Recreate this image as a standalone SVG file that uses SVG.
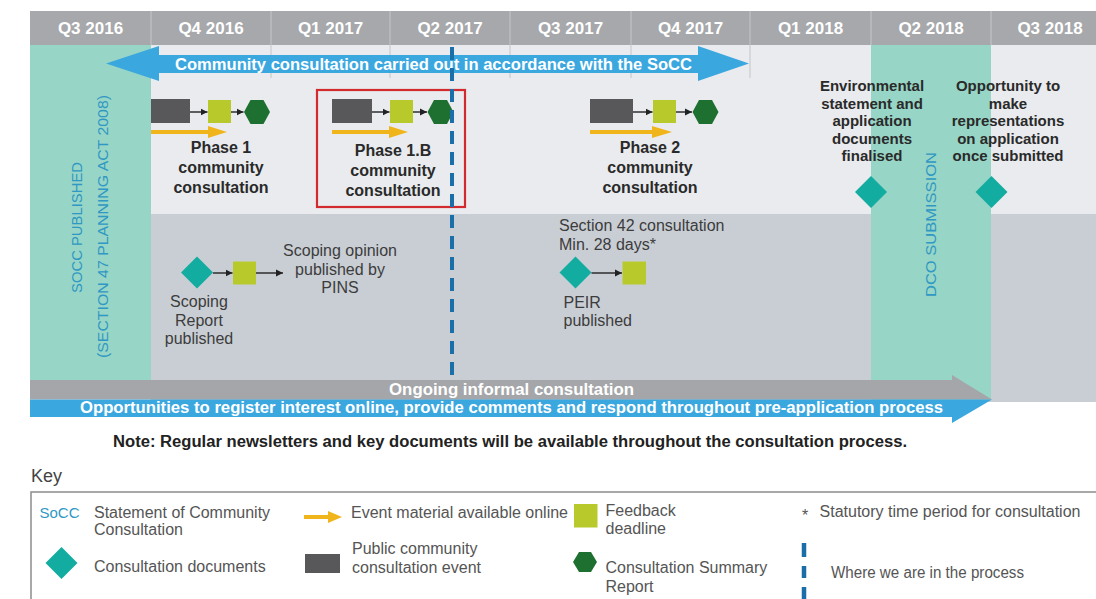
<svg xmlns="http://www.w3.org/2000/svg" width="1096" height="599" viewBox="0 0 1096 599">
<defs>
<style>
.hdr{font-family:"Liberation Sans",Arial,sans-serif;font-weight:bold;font-size:17px;fill:#fff;text-anchor:middle}
.ph{font-family:"Liberation Sans",Arial,sans-serif;font-weight:bold;font-size:16px;fill:#2a2a2a;text-anchor:middle}
.ms{font-family:"Liberation Sans",Arial,sans-serif;font-weight:bold;font-size:15px;fill:#2a2a2a;text-anchor:middle}
.lab{font-family:"Liberation Sans",Arial,sans-serif;font-size:16px;fill:#3c3c3c}
.mid{text-anchor:middle}
.vert{font-family:"Liberation Sans",Arial,sans-serif;font-size:15px;fill:#2f98c3;text-anchor:middle}
.band{font-family:"Liberation Sans",Arial,sans-serif;font-weight:bold;font-size:16px;fill:#fff;text-anchor:middle}
.note{font-family:"Liberation Sans",Arial,sans-serif;font-weight:bold;font-size:16px;fill:#222;text-anchor:middle}
.key{font-family:"Liberation Sans",Arial,sans-serif;font-size:16px;fill:#555}
.evt{fill:#58585b}
.fb{fill:#b7c92b}
.csr{fill:#1e7030}
.doc{fill:#13aca0}
.web{fill:#f1b51c}
.div{stroke:#c3c6ca;stroke-width:1}
.link{stroke:#222;stroke-width:1.4;fill:none;marker-end:url(#tip)}
.now{stroke:#1a6fa9;stroke-width:4;stroke-dasharray:13 8;fill:none}
</style>
<marker id="tip" markerUnits="userSpaceOnUse" markerWidth="8" markerHeight="8" refX="7" refY="4" orient="auto"><path d="M0,0.5 L7,4 L0,7.5 z" fill="#222"/></marker>
<polygon id="hex" points="-13,0 -6.5,-12 6.5,-12 13,0 6.5,12 -6.5,12"/>
<polygon id="dia" points="0,-16 16,0 0,16 -16,0"/>
</defs>

<!-- timeline background -->
<g id="background">
  <rect x="30" y="11" width="1066" height="34" fill="#a6a8ab"/>
  <rect x="151" y="45" width="945" height="169" fill="#e9ebee"/>
  <rect x="151" y="214" width="945" height="188" fill="#c9ced4"/>
  <g stroke="#c4c6c9" stroke-width="1">
    <line x1="151" y1="11" x2="151" y2="45"/>
    <line x1="271" y1="11" x2="271" y2="45"/>
    <line x1="390" y1="11" x2="390" y2="45"/>
    <line x1="510" y1="11" x2="510" y2="45"/>
    <line x1="631" y1="11" x2="631" y2="45"/>
    <line x1="750" y1="11" x2="750" y2="45"/>
    <line x1="871" y1="11" x2="871" y2="45"/>
    <line x1="991" y1="11" x2="991" y2="45"/>
  </g>
  <g class="div">
    <line x1="271" y1="45" x2="271" y2="78"/>
    <line x1="390" y1="45" x2="390" y2="78"/>
    <line x1="510" y1="45" x2="510" y2="78"/>
    <line x1="631" y1="45" x2="631" y2="78"/>
    <line x1="750" y1="45" x2="750" y2="78"/>
  </g>
</g>

<!-- quarter headings -->
<g id="quarters">
  <text class="hdr" x="90.5" y="34">Q3 2016</text>
  <text class="hdr" x="211" y="34">Q4 2016</text>
  <text class="hdr" x="330.5" y="34">Q1 2017</text>
  <text class="hdr" x="450" y="34">Q2 2017</text>
  <text class="hdr" x="570.5" y="34">Q3 2017</text>
  <text class="hdr" x="690.5" y="34">Q4 2017</text>
  <text class="hdr" x="810.5" y="34">Q1 2018</text>
  <text class="hdr" x="931" y="34">Q2 2018</text>
  <text class="hdr" x="1050" y="34">Q3 2018</text>
</g>

<!-- SoCC published milestone band -->
<g id="socc-published">
  <rect x="30" y="45" width="121" height="336" fill="#97d5c6"/>
  <text class="vert" transform="translate(82,227.5) rotate(-90)" textLength="131" lengthAdjust="spacingAndGlyphs">SOCC PUBLISHED</text>
  <text class="vert" transform="translate(108,226.5) rotate(-90)" textLength="263" lengthAdjust="spacingAndGlyphs">(SECTION 47 PLANNING ACT 2008)</text>
</g>

<!-- DCO submission milestone band -->
<g id="dco-submission">
  <rect x="871" y="45" width="120" height="355" fill="#97d5c6"/>
  <text class="vert" transform="translate(936,224.5) rotate(-90)" textLength="145" lengthAdjust="spacingAndGlyphs">DCO SUBMISSION</text>
</g>

<!-- consultation period arrow -->
<g id="socc-period">
  <polygon points="106,63.5 159,46 159,55 698,55 698,46 749,63.5 698,81 698,73 159,73 159,81" fill="#3ba7df"/>
  <text class="band" x="433.5" y="70" textLength="517" lengthAdjust="spacingAndGlyphs">Community consultation carried out in accordance with the SoCC</text>
</g>

<!-- phase 1 -->
<g id="phase-1">
  <rect class="evt" x="151" y="99" width="39" height="24"/>
  <rect class="fb" x="208" y="100" width="23" height="23"/>
  <use href="#hex" class="csr" x="257" y="112"/>
  <polygon class="web" points="151,130 208,130 208,126 227,132 208,138 208,134 151,134"/>
  <text class="ph" x="221" y="153">Phase 1</text>
  <text class="ph" x="221" y="173">community</text>
  <text class="ph" x="221" y="193">consultation</text>
</g>

<!-- phase 1.B -->
<g id="phase-1b">
  <rect x="317" y="90" width="148" height="117" fill="none" stroke="#d22a2f" stroke-width="2.2"/>
  <rect class="evt" x="332" y="99" width="40" height="24"/>
  <rect class="fb" x="390" y="100" width="23" height="23"/>
  <use href="#hex" class="csr" x="440.5" y="112"/>
  <polygon class="web" points="332,130 389,130 389,126 408,132 389,138 389,134 332,134"/>
  <text class="ph" x="393" y="156">Phase 1.B</text>
  <text class="ph" x="393" y="176">community</text>
  <text class="ph" x="393" y="196">consultation</text>
</g>

<!-- phase 2 -->
<g id="phase-2">
  <rect class="evt" x="590" y="99" width="43" height="24"/>
  <rect class="fb" x="653" y="100" width="23" height="23"/>
  <use href="#hex" class="csr" x="705.5" y="112"/>
  <polygon class="web" points="590,130 652,130 652,126 672,132 652,138 652,134 590,134"/>
  <text class="ph" x="650" y="153">Phase 2</text>
  <text class="ph" x="650" y="173">community</text>
  <text class="ph" x="650" y="193">consultation</text>
</g>

<!-- application documents finalised -->
<g id="application-finalised">
  <text class="ms" x="872" y="91">Environmental</text>
  <text class="ms" x="872" y="108.5">statement and</text>
  <text class="ms" x="872" y="126">application</text>
  <text class="ms" x="872" y="143.5">documents</text>
  <text class="ms" x="872" y="161">finalised</text>
  <use href="#dia" class="doc" x="871" y="192"/>
</g>

<!-- representations -->
<g id="representations">
  <text class="ms" x="1008" y="91">Opportunity to</text>
  <text class="ms" x="1008" y="108.5">make</text>
  <text class="ms" x="1008" y="126">representations</text>
  <text class="ms" x="1008" y="143.5">on application</text>
  <text class="ms" x="1008" y="161">once submitted</text>
  <use href="#dia" class="doc" x="991.5" y="192"/>
</g>

<!-- scoping -->
<g id="scoping">
  <use href="#dia" class="doc" x="197" y="272.5"/>
  <rect class="fb" x="233" y="261.5" width="23" height="23"/>
  <text class="lab mid" x="199" y="307">Scoping</text>
  <text class="lab mid" x="199" y="325.5">Report</text>
  <text class="lab mid" x="199" y="344">published</text>
  <text class="lab mid" x="340" y="255.5">Scoping opinion</text>
  <text class="lab mid" x="340" y="274.5">published by</text>
  <text class="lab mid" x="340" y="293">PINS</text>
</g>

<!-- section 42 consultation -->
<g id="section-42">
  <text class="lab" x="559" y="230.5">Section 42 consultation</text>
  <text class="lab" x="559" y="249.5">Min. 28 days*</text>
  <use href="#dia" class="doc" x="575.5" y="272.5"/>
  <rect class="fb" x="622.5" y="261.5" width="23.5" height="23"/>
  <text class="lab" x="563.5" y="307.5">PEIR</text>
  <text class="lab" x="563.5" y="326">published</text>
</g>

<!-- step connectors -->
<g id="connectors">
  <line class="link" x1="190" y1="112" x2="207.5" y2="112"/>
  <line class="link" x1="231" y1="112" x2="243.5" y2="112"/>
  <line class="link" x1="372" y1="112" x2="389.5" y2="112"/>
  <line class="link" x1="413" y1="112" x2="427" y2="112"/>
  <line class="link" x1="633" y1="112" x2="652.5" y2="112"/>
  <line class="link" x1="676" y1="112" x2="692" y2="112"/>
  <line class="link" x1="213" y1="273" x2="232.5" y2="273"/>
  <line class="link" x1="256" y1="273" x2="283" y2="273"/>
  <line class="link" x1="591.5" y1="273" x2="622" y2="273"/>
</g>

<!-- ongoing consultation arrows -->
<g id="ongoing">
  <polygon points="30,380 952,380 952,375 992,399.5 30,399.5" fill="#a4a6a9"/>
  <polygon points="30,399.5 992,399.5 952,423 952,417 30,417" fill="#3ba7df"/>
  <text class="band" x="511.5" y="394.5" textLength="245" lengthAdjust="spacingAndGlyphs">Ongoing informal consultation</text>
  <text class="band" x="511.5" y="412.5" textLength="863" lengthAdjust="spacingAndGlyphs">Opportunities to register interest online, provide comments and respond throughout pre-application process</text>
</g>

<!-- current position marker -->
<g id="current-position">
  <line class="now" x1="452" y1="47" x2="452" y2="381"/>
</g>

<text class="note" x="510" y="447" textLength="794" lengthAdjust="spacingAndGlyphs">Note: Regular newsletters and key documents will be available throughout the consultation process.</text>

<!-- key -->
<g id="key">
  <text x="31" y="482" font-family="'Liberation Sans',Arial,sans-serif" font-size="18" fill="#444">Key</text>
  <rect x="31" y="492" width="1080" height="130" fill="none" stroke="#8c8c8c" stroke-width="1.5"/>
  <text x="39.5" y="518" font-family="'Liberation Sans',Arial,sans-serif" font-size="15" fill="#2f98c3">SoCC</text>
  <text class="key" x="94" y="518">Statement of Community</text>
  <text class="key" x="94" y="535">Consultation</text>
  <polygon class="web" points="304,515 328,515 328,511 342,517 328,523 328,519 304,519"/>
  <text class="key" x="351" y="518">Event material available online</text>
  <rect class="fb" x="574" y="504" width="23.5" height="23.5"/>
  <text class="key" x="605.5" y="516">Feedback</text>
  <text class="key" x="605.5" y="534">deadline</text>
  <text class="key" x="802" y="521" font-size="18">*</text>
  <text class="key" x="819.5" y="517" textLength="261" lengthAdjust="spacingAndGlyphs">Statutory time period for consultation</text>
  <use href="#dia" class="doc" x="61.5" y="563"/>
  <text class="key" x="94" y="572">Consultation documents</text>
  <rect class="evt" x="305" y="554" width="35" height="19"/>
  <text class="key" x="352" y="554">Public community</text>
  <text class="key" x="352" y="573">consultation event</text>
  <polygon class="csr" points="573,562 579,552 591,552 597,562 591,572 579,572"/>
  <text class="key" x="605.5" y="573">Consultation Summary</text>
  <text class="key" x="605.5" y="592">Report</text>
  <g stroke="#1a6fa9" stroke-width="4.5">
    <line x1="804" y1="543" x2="804" y2="557"/>
    <line x1="804" y1="566" x2="804" y2="578"/>
    <line x1="804" y1="587" x2="804" y2="599"/>
  </g>
  <text class="key" x="831" y="578" textLength="193" lengthAdjust="spacingAndGlyphs">Where we are in the process</text>
</g>
</svg>
